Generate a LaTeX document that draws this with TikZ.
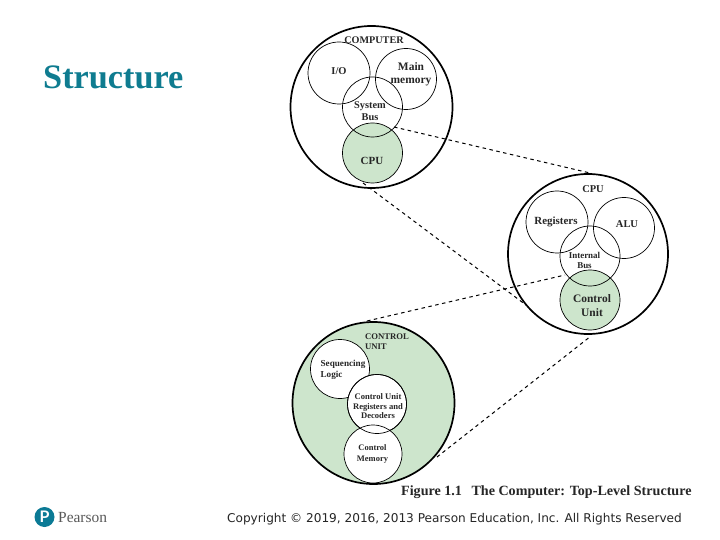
\documentclass[tikz,border=0pt]{standalone}
\usepackage{fontspec}
\setmainfont{Liberation Serif}
\newfontfamily\dejafont{DejaVu Sans}
\newfontfamily\pearsonfont{Lato}
\definecolor{cgreen}{HTML}{CDE5CC}
\definecolor{cteal}{HTML}{0F7C90}
\definecolor{cpear}{HTML}{0B7A95}
\tikzset{
  outer/.style={circle,draw=black,line width=1.7bp,minimum size=#1,inner sep=0pt},
  inner/.style={circle,draw=black,line width=0.7bp,minimum size=#1,inner sep=0pt},
  lab/.style={font=\fontsize{#1}{#1}\selectfont\bfseries,text=black!85,align=center,inner sep=0pt},
  lnk/.style={dash pattern=on 3.5bp off 3.5bp,line width=1bp,black},
}
\begin{document}
\begin{tikzpicture}[x=1bp,y=-1bp]
\useasboundingbox (0,0) rectangle (720,540);
\fill[white] (0,0) rectangle (720,540);
% computer
\node[outer=162bp] (comp) at (371.5,107) {};
\node[inner=60bp,fill=cgreen] (cpuc) at (372.5,153) {};
\node[inner=62bp] (io) at (339,73) {};
\node[inner=61bp] (mem) at (406,79) {};
\node[inner=60bp] (sbus) at (372.5,107) {};
\node[lab=10.2] (tcomp) at (374,40.5) {COMPUTER};
\node[lab=10.5] (tio) at (339,71) {I/O};
\node[lab=11.5] (tmem) at (411,74.5) {Main\\[1.5pt]memory};
\node[lab=10.4] (tsys) at (370,111.5) {System\\[1.5pt]Bus};
\node[lab=11] (tcpu) at (372,161) {CPU};
% cpu
\node[outer=160bp] (cpu) at (588,254) {};
\node[inner=60bp,fill=cgreen] (cu) at (590,300) {};
\node[inner=62bp] (reg) at (557,222) {};
\node[inner=61bp] (alu) at (624,228) {};
\node[inner=60bp] (ibus) at (590,256) {};
\node[lab=10.5] (tcpu2) at (593,189) {CPU};
\node[lab=11] (treg) at (556,221.5) {Registers};
\node[lab=10.5] (talu) at (627,224) {ALU};
\node[lab=9] (tibus) at (584.5,260.5) {Internal\\[1.5pt]Bus};
\node[lab=11.5] (tcu) at (592,305.5) {Control\\[2pt]Unit};
% control unit
\node[outer=162bp,fill=cgreen] (cun) at (373.5,403) {};
\node[inner=59bp,fill=white] (seq) at (340,369) {};
\node[inner=59bp,fill=white] (creg) at (377,404) {};
\node[inner=58bp,fill=white] (cmem) at (373,454) {};
\node[inner=59bp] (creg2) at (377,404) {};
\node[lab=8.7,align=left] (tcun) at (387,342) {CONTROL\\[1.5pt]UNIT};
\node[lab=9.2,align=left] (tseq) at (343,369.5) {Sequencing\\[1.5pt]Logic};
\node[lab=8.6] (tcreg) at (378,406.5) {Control Unit\\[1pt]Registers and\\[1pt]Decoders};
\node[lab=8.5] (tcmem) at (372.5,454) {Control\\[2.5pt]Memory};
% dashed connectors
\coordinate (a1) at (394,127);
\coordinate (a2) at (590,173);
\coordinate (b1) at (363,183);
\coordinate (b2) at (526,305);
\coordinate (c1) at (367,321);
\coordinate (c2) at (565,275);
\coordinate (d1) at (437,457);
\coordinate (d2) at (591,336);
\draw[lnk] (a1) -- (a2);
\draw[lnk] (b1) -- (b2);
\draw[lnk] (c1) -- (c2);
\draw[lnk] (d1) -- (d2);
% slide text
\node[anchor=base west,inner sep=0pt,text=cteal,font=\fontsize{34.4}{34}\selectfont\bfseries] (title) at (43,88.5) {Structure};
\node[anchor=base west,inner sep=0pt,text=black!85,font=\fontsize{14.15}{14}\selectfont\bfseries] (cap) at (401,495.5) {Figure 1.1\hspace{6pt} The Computer: Top-Level Structure};
\node[anchor=base west,inner sep=0pt,text=black!85,font=\dejafont\fontsize{12.15}{12}\selectfont] (copy) at (227,522) {Copyright © 2019, 2016, 2013 Pearson Education, Inc. All Rights Reserved};
% logo
\node[circle,fill=cpear,minimum size=20bp,inner sep=0pt,text=white,font=\pearsonfont\fontsize{16}{16}\selectfont\bfseries] (logo) at (44.5,517) {P};
\node[anchor=base west,inner sep=0pt,text=black!65,font=\fontsize{15.5}{16}\selectfont] (pear) at (58,522) {Pearson};
\end{tikzpicture}
\end{document}
